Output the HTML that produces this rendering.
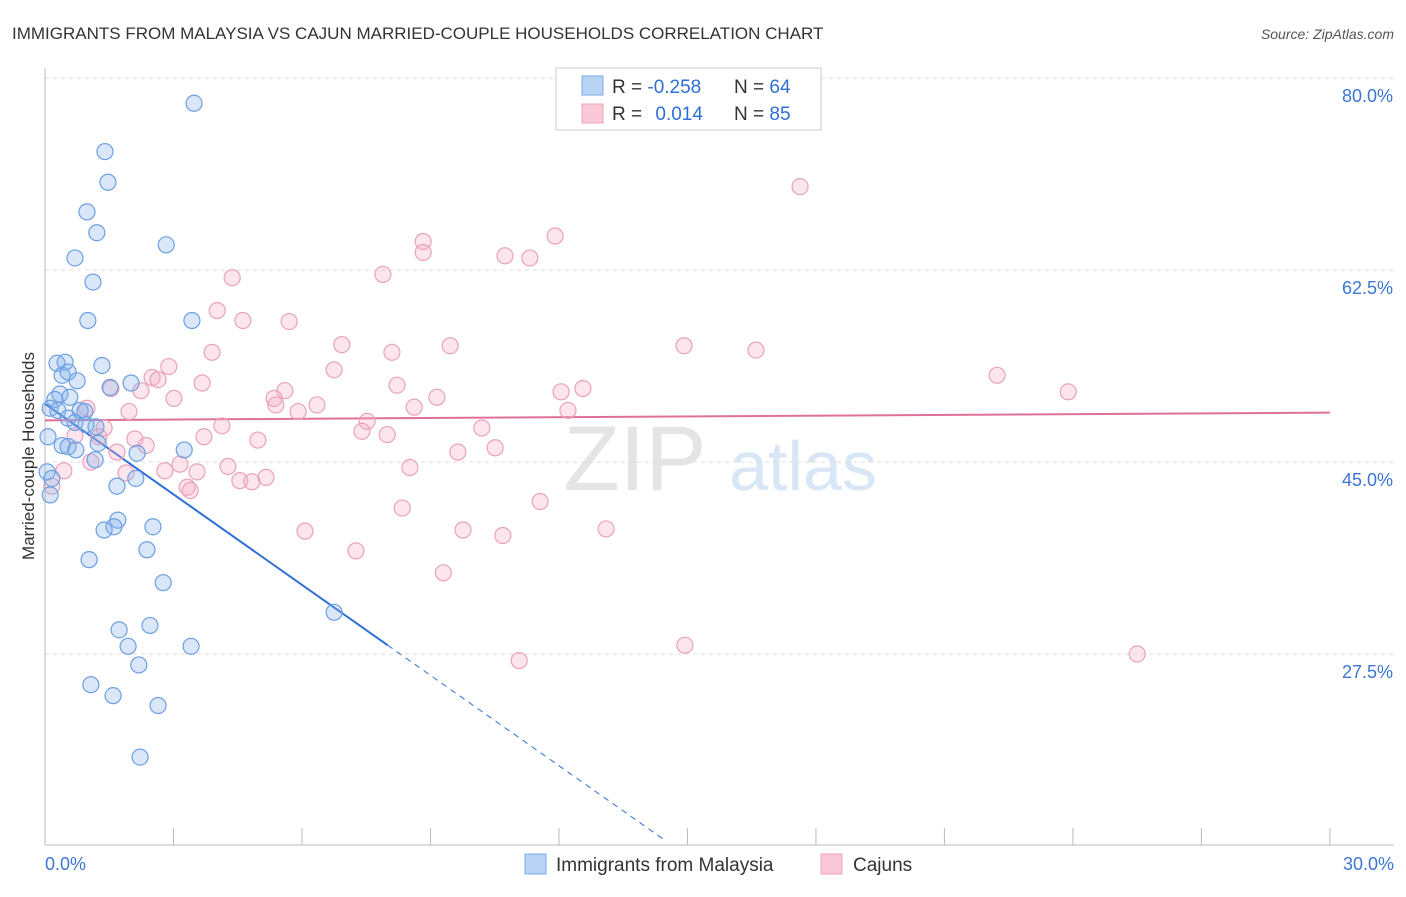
<!DOCTYPE html>
<html><head><meta charset="utf-8"><style>
body{margin:0;background:#fff;font-family:"Liberation Sans",sans-serif;}
svg text{font-family:"Liberation Sans",sans-serif;}
</style></head><body>
<svg id="chart" width="1406" height="892">
<text x="12" y="39" font-size="17" fill="#333">IMMIGRANTS FROM MALAYSIA VS CAJUN MARRIED-COUPLE HOUSEHOLDS CORRELATION CHART</text>
<text x="1394" y="39" font-size="14" fill="#555" font-style="italic" text-anchor="end">Source: ZipAtlas.com</text>
<text x="34" y="456" font-size="17" fill="#333" text-anchor="middle" transform="rotate(-90 34 456)">Married-couple Households</text>
<g>
<text x="635" y="490" font-size="92" fill="#e4e4e4" font-family="Liberation Serif" text-anchor="middle">ZIP</text>
<text x="803" y="490" font-size="70" fill="#d8e6f6" text-anchor="middle">atlas</text>
</g>
<g id="grid"></g><g id="axes"></g><g id="trend"></g><g id="points"></g>
<g>
<rect x="556" y="68" width="265" height="62" fill="#fff" stroke="#ccc"/>
<rect x="582" y="76" width="21" height="19" fill="#b9d3f4" stroke="#7aa9e6"/>
<rect x="582" y="104" width="21" height="19" fill="#f9c9d7" stroke="#eba3ba"/>
<text x="612" y="93" font-size="19" fill="#333">R = <tspan fill="#2f6fd6">-0.258</tspan></text>
<text x="734" y="93" font-size="19" fill="#333">N = <tspan fill="#2f6fd6">64</tspan></text>
<text x="612" y="120" font-size="19" fill="#333">R = <tspan fill="#2f6fd6" dx="8">0.014</tspan></text>
<text x="734" y="120" font-size="19" fill="#333">N = <tspan fill="#2f6fd6">85</tspan></text>
</g>
<g>
<rect x="525" y="854" width="21" height="20" fill="#b9d3f4" stroke="#7aa9e6"/>
<text x="556" y="871" font-size="19" fill="#333">Immigrants from Malaysia</text>
<rect x="821" y="854" width="21" height="20" fill="#f9c9d7" stroke="#eba3ba"/>
<text x="853" y="871" font-size="19" fill="#333">Cajuns</text>
</g>
</svg>
<script>
const xTicks=[0,3,6,9,12,15,18,21,24,27,30];
const yTicks=[27.5,45.0,62.5,80.0];
const yTickLabels=["27.5%","45.0%","62.5%","80.0%"];
const blueX=[3.48,1.40,1.47,0.98,1.21,2.83,0.70,1.12,1.00,3.43,0.28,0.47,1.33,0.40,0.54,0.75,2.01,1.52,0.35,0.58,0.23,0.12,0.30,0.82,0.93,0.54,0.70,0.96,1.19,0.07,0.40,0.54,0.72,1.24,3.25,2.15,1.17,0.05,0.16,2.12,1.68,0.12,1.70,2.52,1.38,1.61,2.38,1.03,2.76,6.75,1.73,2.45,1.94,3.41,2.19,1.07,1.59,2.64,2.22];
const blueY=[77.7,73.3,70.5,67.8,65.9,64.8,63.6,61.4,57.9,57.9,54.0,54.1,53.8,52.9,53.2,52.4,52.2,51.8,51.2,50.9,50.7,49.9,49.7,49.7,49.6,49.0,48.6,48.4,48.2,47.3,46.5,46.4,46.1,46.7,46.1,45.8,45.2,44.1,43.5,43.5,42.8,42.0,39.7,39.1,38.8,39.1,37.0,36.1,34.0,31.3,29.7,30.1,28.2,28.2,26.5,24.7,23.7,22.8,18.1];
const pinkX=[17.63,8.83,11.91,8.83,10.74,11.32,7.89,4.37,4.02,4.62,5.70,6.93,9.46,14.92,16.60,8.10,3.90,2.89,6.75,22.23,2.50,2.64,3.67,8.22,1.54,2.24,12.56,12.05,23.89,5.60,3.01,5.35,9.15,5.39,6.35,8.62,5.91,12.21,1.96,0.98,7.52,4.13,10.20,1.38,7.40,7.99,3.71,4.97,2.10,0.70,1.26,2.36,10.51,9.64,1.68,3.15,1.07,4.27,8.52,0.44,2.80,3.55,1.89,5.16,4.55,4.83,3.32,3.39,0.16,11.56,8.34,6.07,9.76,10.69,13.10,7.26,9.30,14.94,11.07,25.50];
const pinkY=[70.1,65.1,65.6,64.1,63.8,63.6,62.1,61.8,58.8,57.9,57.8,55.7,55.6,55.6,55.2,55.0,55.0,53.7,53.4,52.9,52.7,52.5,52.2,52.0,51.7,51.5,51.7,51.4,51.4,51.5,50.8,50.8,50.9,50.2,50.2,50.0,49.6,49.7,49.6,49.9,48.7,48.3,48.1,48.1,47.8,47.5,47.3,47.0,47.1,47.4,47.3,46.5,46.3,45.9,45.9,44.8,45.0,44.6,44.5,44.2,44.2,44.1,44.0,43.6,43.3,43.2,42.7,42.4,42.8,41.4,40.8,38.7,38.8,38.3,38.9,36.9,34.9,28.3,26.9,27.5];
const blueTrend=[50.3,28.3,10.5]; // y at x=0, solid end x=8.0, dashed end x=14.48
const blueTrendX=[0,8.0,14.48];
const pinkTrend=[48.8,49.5];
const pinkTrendX=[0,30];
const NS="http://www.w3.org/2000/svg";
const X=v=>45+v*42.83, Y=v=>462-(v-45)*10.97;
function mk(tag,attrs,parent){const e=document.createElementNS(NS,tag);for(const k in attrs)e.setAttribute(k,attrs[k]);parent.appendChild(e);return e;}
const grid=document.getElementById('grid'),axes=document.getElementById('axes'),trend=document.getElementById('trend'),pts=document.getElementById('points');
yTicks.forEach((t,i)=>{
 const l=mk('line',{x1:45,x2:1394,y1:Y(t),y2:Y(t),stroke:'#ddd','stroke-dasharray':'4,4'},grid);
 
 
 const tx=mk('text',{x:1393,y:Y(t)+24,'font-size':18,fill:'#3b76d6','text-anchor':'end'},axes);
 tx.textContent=yTickLabels[i];
 
 
});
const xa=mk('line',{x1:45,x2:1394,y1:845,y2:845,stroke:'#bbb'},axes);


const ya=mk('line',{x1:45,x2:45,y1:68,y2:845,stroke:'#bbb'},axes);


xTicks.forEach(t=>{
 const l=mk('line',{x1:X(t),x2:X(t),y1:828,y2:845,stroke:'#bbb'},axes);
 
 
});
const xl0=mk('text',{x:45,y:870,'font-size':18,fill:'#3b76d6'},axes);xl0.textContent=xTicks[0].toFixed(1)+'%';


const xl1=mk('text',{x:1394,y:870,'font-size':18,fill:'#3b76d6','text-anchor':'end'},axes);xl1.textContent=xTicks[xTicks.length-1].toFixed(1)+'%';


pinkX.forEach((x,i)=>{
 const c=mk('circle',{cx:X(x),cy:Y(pinkY[i]),r:8,fill:'rgba(244,170,195,0.3)',stroke:'#eaa2ba','stroke-width':1.2},pts);
 
 
});
blueX.forEach((x,i)=>{
 const c=mk('circle',{cx:X(x),cy:Y(blueY[i]),r:8,fill:'rgba(130,175,235,0.3)',stroke:'#6c9fe2','stroke-width':1.2},pts);
 
 
});
const b1=mk('line',{x1:X(blueTrendX[0]),y1:Y(blueTrend[0]),x2:X(blueTrendX[1]),y2:Y(blueTrend[1]),stroke:'#2f6fd6','stroke-width':2},trend);


const b2=mk('line',{x1:X(blueTrendX[1]),y1:Y(blueTrend[1]),x2:X(blueTrendX[2]),y2:Y(blueTrend[2]),stroke:'#2f6fd6','stroke-width':1,'stroke-dasharray':'6,5'},trend);


const p1=mk('line',{x1:X(pinkTrendX[0]),y1:Y(pinkTrend[0]),x2:X(pinkTrendX[1]),y2:Y(pinkTrend[1]),stroke:'#e0709a','stroke-width':2},trend);


</script>
</body></html>
